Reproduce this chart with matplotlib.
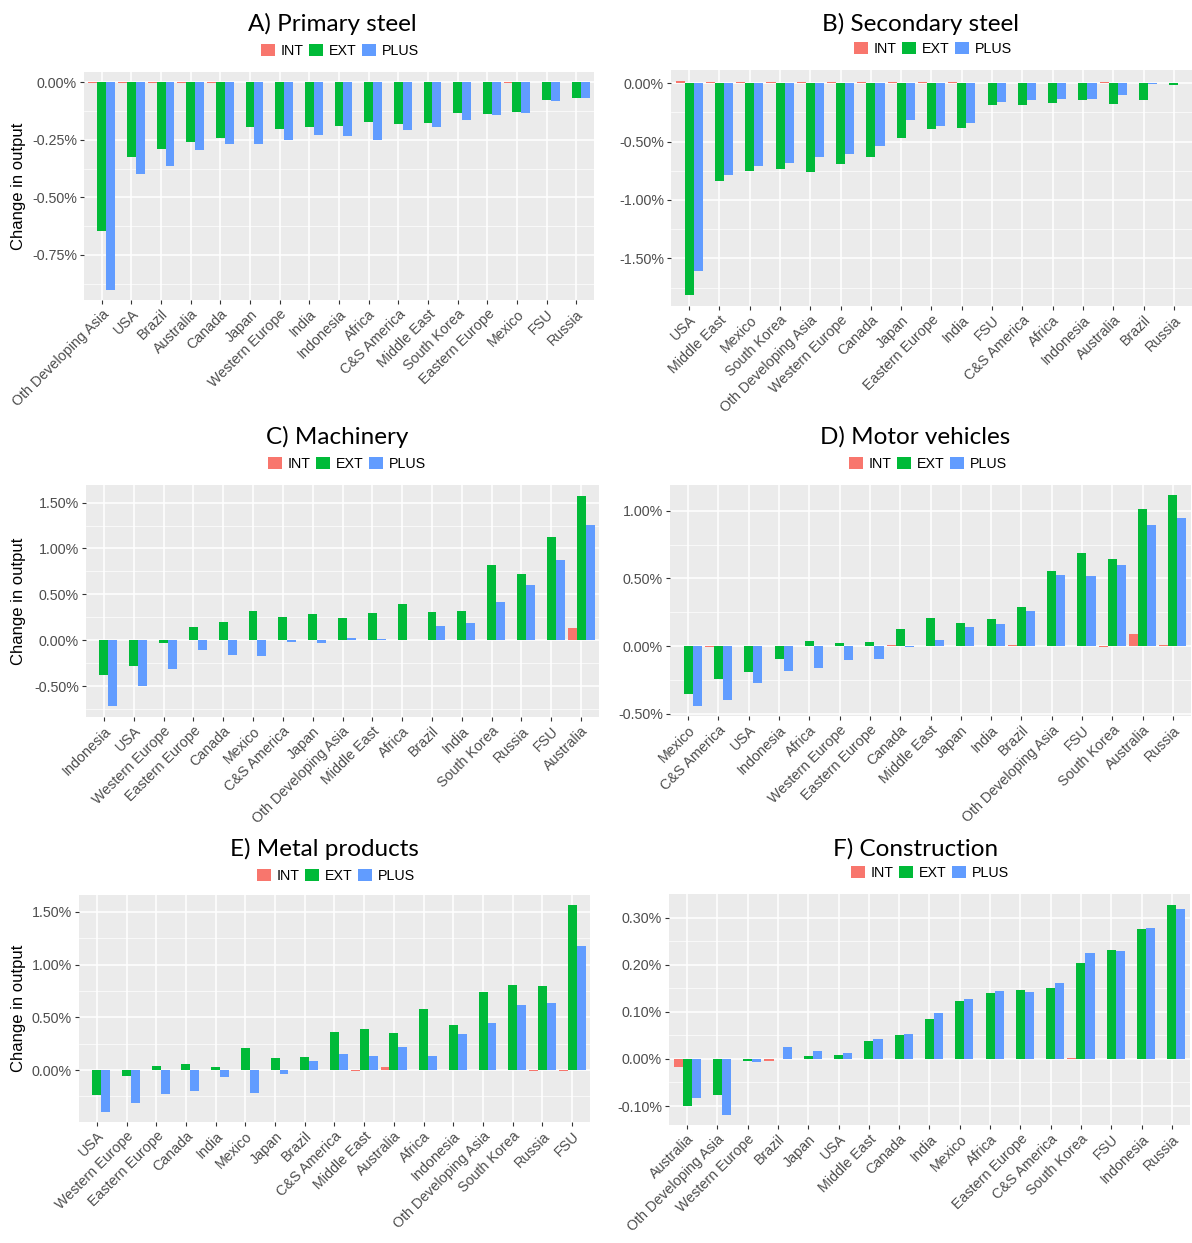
import numpy as np
import matplotlib
matplotlib.use('Agg')
import matplotlib.pyplot as plt
from matplotlib.patches import Patch
from matplotlib.ticker import FixedLocator, FuncFormatter

plt.rcParams['font.family'] = ['Liberation Sans', 'DejaVu Sans']

# colours of the three scenarios (ggplot hue palette)
scen_names = ['INT', 'EXT', 'PLUS']
scen_colors = ['#F8766D', '#00BA38', '#619CFF']

# A) Primary steel
a_regions = ['Oth Developing Asia', 'USA', 'Brazil', 'Australia', 'Canada', 'Japan',
             'Western Europe', 'India', 'Indonesia', 'Africa', 'C&S America',
             'Middle East', 'South Korea', 'Eastern Europe', 'Mexico', 'FSU', 'Russia']
a_int = [-0.003, -0.003, -0.003, -0.003, -0.003, 0.0, 0.0, 0.0, 0.0, 0.0, 0.0,
         0.0, 0.0, 0.0, -0.002, 0.0, 0.0]
a_ext = [-0.645, -0.325, -0.291, -0.261, -0.241, -0.196, -0.204, -0.196, -0.190,
         -0.174, -0.181, -0.178, -0.135, -0.139, -0.130, -0.075, -0.067]
a_plus = [-0.901, -0.397, -0.362, -0.294, -0.267, -0.268, -0.249, -0.230, -0.235,
          -0.249, -0.207, -0.193, -0.165, -0.143, -0.132, -0.083, -0.067]

# B) Secondary steel
b_regions = ['USA', 'Middle East', 'Mexico', 'South Korea', 'Oth Developing Asia',
             'Western Europe', 'Canada', 'Japan', 'Eastern Europe', 'India', 'FSU',
             'C&S America', 'Africa', 'Indonesia', 'Australia', 'Brazil', 'Russia']
b_int = [0.020, 0.010, 0.010, 0.010, 0.010, 0.010, 0.005, 0.005, 0.005, 0.005, 0.0,
         0.0, 0.0, 0.0, 0.008, 0.0, 0.0]
b_ext = [-1.815, -0.838, -0.749, -0.735, -0.758, -0.692, -0.632, -0.467, -0.390,
         -0.385, -0.191, -0.185, -0.168, -0.148, -0.179, -0.148, -0.017]
b_plus = [-1.607, -0.783, -0.707, -0.684, -0.632, -0.604, -0.538, -0.316, -0.365,
          -0.342, -0.162, -0.148, -0.140, -0.134, -0.105, -0.010, 0.0]

# C) Machinery
c_regions = ['Indonesia', 'USA', 'Western Europe', 'Eastern Europe', 'Canada', 'Mexico',
             'C&S America', 'Japan', 'Oth Developing Asia', 'Middle East', 'Africa',
             'Brazil', 'India', 'South Korea', 'Russia', 'FSU', 'Australia']
c_int = [0.0, 0.0, 0.0, 0.0, 0.005, 0.005, 0.0, 0.005, 0.0, 0.005, 0.005, 0.005,
         0.005, 0.0, 0.005, 0.005, 0.128]
c_ext = [-0.383, -0.285, -0.030, 0.139, 0.197, 0.321, 0.252, 0.281, 0.241, 0.292,
         0.398, 0.303, 0.318, 0.818, 0.719, 1.124, 1.577]
c_plus = [-0.723, -0.504, -0.320, -0.102, -0.164, -0.172, -0.018, -0.036, 0.022,
          0.011, 0.0, 0.157, 0.186, 0.416, 0.599, 0.876, 1.255]

# D) Motor vehicles
d_regions = ['Mexico', 'C&S America', 'USA', 'Indonesia', 'Africa', 'Western Europe',
             'Eastern Europe', 'Canada', 'Middle East', 'Japan', 'India', 'Brazil',
             'Oth Developing Asia', 'FSU', 'South Korea', 'Australia', 'Russia']
d_int = [0.0, -0.005, 0.0, 0.0, 0.0, 0.0, 0.0, 0.005, 0.0, 0.0, 0.0, 0.005, 0.0,
         0.003, -0.005, 0.091, 0.005]
d_ext = [-0.358, -0.247, -0.190, -0.099, 0.035, 0.022, 0.027, 0.126, 0.207, 0.170,
         0.202, 0.291, 0.558, 0.689, 0.647, 1.017, 1.114]
d_plus = [-0.440, -0.398, -0.277, -0.183, -0.163, -0.104, -0.094, -0.010, 0.047,
          0.143, 0.160, 0.262, 0.528, 0.521, 0.600, 0.896, 0.948]

# E) Metal products
e_regions = ['USA', 'Western Europe', 'Eastern Europe', 'Canada', 'India', 'Mexico',
             'Japan', 'Brazil', 'C&S America', 'Middle East', 'Australia', 'Africa',
             'Indonesia', 'Oth Developing Asia', 'South Korea', 'Russia', 'FSU']
e_int = [0.0, 0.0, 0.0, 0.0, 0.0, 0.005, 0.0, 0.0, 0.0, -0.005, 0.028, 0.0, 0.0,
         0.0, 0.0, -0.005, -0.005]
e_ext = [-0.234, -0.054, 0.038, 0.054, 0.028, 0.208, 0.111, 0.120, 0.357, 0.388,
         0.350, 0.581, 0.423, 0.745, 0.805, 0.796, 1.563]
e_plus = [-0.395, -0.313, -0.227, -0.196, -0.063, -0.218, -0.038, 0.082, 0.152,
          0.133, 0.218, 0.133, 0.341, 0.442, 0.616, 0.635, 1.178]

# F) Construction
f_regions = ['Australia', 'Oth Developing Asia', 'Western Europe', 'Brazil', 'Japan',
             'USA', 'Middle East', 'Canada', 'India', 'Mexico', 'Africa',
             'Eastern Europe', 'C&S America', 'South Korea', 'FSU', 'Indonesia', 'Russia']
f_int = [-0.018, 0.0, 0.0, -0.004, 0.0, 0.0, -0.001, -0.001, 0.0, -0.001, -0.001,
         0.0, 0.0, 0.001, 0.0, 0.0, -0.001]
f_ext = [-0.100, -0.077, -0.004, 0.0, 0.006, 0.008, 0.038, 0.051, 0.084, 0.124,
         0.140, 0.146, 0.150, 0.204, 0.232, 0.275, 0.328]
f_plus = [-0.083, -0.118, -0.007, 0.025, 0.016, 0.013, 0.042, 0.054, 0.097, 0.128,
          0.145, 0.143, 0.162, 0.225, 0.229, 0.278, 0.318]

W, H = 1192, 1243

panels = [
    dict(title='A) Primary steel', regions=a_regions, vals=[a_int, a_ext, a_plus],
         box=(84, 72, 594, 300), title_xy=(332, 24), leg_xy=(340, 51), ylab=True,
         major=[-0.75, -0.50, -0.25, 0.0], minor=[-0.875, -0.625, -0.375, -0.125]),
    dict(title='B) Secondary steel', regions=b_regions, vals=[b_int, b_ext, b_plus],
         box=(671, 70, 1192, 306), title_xy=(920, 24), leg_xy=(933, 49), ylab=False,
         major=[-1.5, -1.0, -0.5, 0.0], minor=[-1.75, -1.25, -0.75, -0.25]),
    dict(title='C) Machinery', regions=c_regions, vals=[c_int, c_ext, c_plus],
         box=(86, 485, 599, 717), title_xy=(337, 437), leg_xy=(347, 464), ylab=True,
         major=[-0.5, 0.0, 0.5, 1.0, 1.5], minor=[-0.75, -0.25, 0.25, 0.75, 1.25]),
    dict(title='D) Motor vehicles', regions=d_regions, vals=[d_int, d_ext, d_plus],
         box=(670, 485, 1191, 716), title_xy=(915, 437), leg_xy=(928, 464), ylab=False,
         major=[-0.5, 0.0, 0.5, 1.0], minor=[-0.25, 0.25, 0.75]),
    dict(title='E) Metal products', regions=e_regions, vals=[e_int, e_ext, e_plus],
         box=(79, 895, 590, 1122), title_xy=(324, 849), leg_xy=(336, 876), ylab=True,
         major=[0.0, 0.5, 1.0, 1.5], minor=[-0.25, 0.25, 0.75, 1.25]),
    dict(title='F) Construction', regions=f_regions, vals=[f_int, f_ext, f_plus],
         box=(669, 894, 1190, 1125), title_xy=(916, 849), leg_xy=(930, 873), ylab=False,
         major=[-0.1, 0.0, 0.1, 0.2, 0.3], minor=[-0.05, 0.05, 0.15, 0.25]),
]

fig = plt.figure(figsize=(W / 100, H / 100), dpi=100)

for p in panels:
    x0, y0, x1, y1 = p['box']
    ax = fig.add_axes([x0 / W, 1 - y1 / H, (x1 - x0) / W, (y1 - y0) / H])
    ax.set_facecolor('#EBEBEB')
    n = len(p['regions'])
    x = np.arange(n)
    for k, (v, col) in enumerate(zip(p['vals'], scen_colors)):
        ax.bar(x + (k - 1) * 0.3, v, width=0.3, color=col, zorder=3, linewidth=0)

    # ggplot-like expansion of the continuous axis
    allv = np.concatenate([np.array(v) for v in p['vals']] + [np.zeros(1)])
    lo, hi = allv.min(), allv.max()
    pad = 0.05 * (hi - lo)
    ax.set_ylim(lo - pad, hi + pad)
    ax.set_xlim(-0.6, n - 0.4)

    ax.yaxis.set_major_locator(FixedLocator(p['major']))
    ax.yaxis.set_minor_locator(FixedLocator(p['minor']))
    ax.yaxis.set_major_formatter(FuncFormatter(lambda v, pos: '{:.2f}%'.format(v)))
    ax.set_xticks(x)
    ax.set_xticklabels(p['regions'], rotation=45, ha='right', va='top',
                       rotation_mode='anchor')

    ax.grid(which='major', color='white', linewidth=1.1, zorder=0)
    ax.grid(which='minor', axis='y', color='white', linewidth=0.5, zorder=0)
    ax.set_axisbelow(True)
    for s in ax.spines.values():
        s.set_visible(False)
    ax.tick_params(which='major', length=3, width=0.8, color='#333333',
                   labelcolor='#4D4D4D', labelsize=10.3, pad=2)
    ax.tick_params(which='minor', length=0)

    if p['ylab']:
        fig.text(19 / W, 1 - (y0 + y1) / 2 / H, 'Change in output', rotation=90,
                 ha='center', va='center', fontsize=12, color='black')

    tx, ty = p['title_xy']
    fig.text(tx / W, 1 - ty / H, p['title'], ha='center', va='center',
             fontsize=17.5, family='Lato', color='black')

    lx, ly = p['leg_xy']
    handles = [Patch(facecolor=c, edgecolor='none', label=s)
               for s, c in zip(scen_names, scen_colors)]
    fig.legend(handles=handles, loc='center', bbox_to_anchor=(lx / W, 1 - ly / H),
               ncol=3, frameon=False, fontsize=10.3, handlelength=0.95,
               handleheight=0.95, handletextpad=0.4, columnspacing=0.4,
               borderpad=0, borderaxespad=0)

fig.savefig('out.png', dpi=100)
